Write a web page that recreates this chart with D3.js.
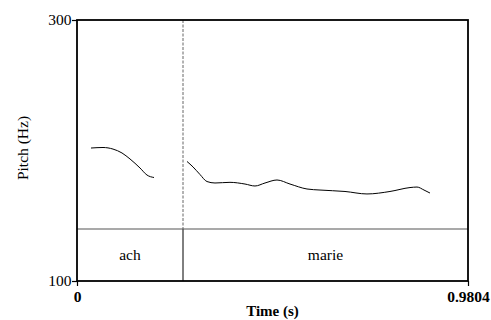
<!DOCTYPE html>
<html><head><meta charset="utf-8">
<script src="https://cdn.jsdelivr.net/npm/d3@7"></script>
<style>body{margin:0;background:#fff}svg{display:block}</style>
</head><body>
<script>
const timeDomain = [0, 0.9804];
const pitchDomain = [100, 300];
const yTickLabels = ["100", "300"];
const xTickLabels = ["0", "0.9804"];
const words = ["ach", "marie"];
const wordBounds = [0, 0.2658, 0.9804];
const seg1Time = [0.0351,0.0652,0.0903,0.1128,0.1329,0.1580,0.1755,0.1931];
const seg1Hz   = [201.9,202.3,201.1,198.1,193.5,186.6,181.2,179.3];
const seg2Time = [0.2758,0.2909,0.3084,0.3260,0.3460,0.3836,0.4213,0.4463,0.4714,0.5015,0.5341,0.5767,0.6093,0.6720,0.7271,0.7848,0.8350,0.8525,0.8701,0.8851];
const seg2Hz   = [191.6,187.4,181.6,176.2,175.1,175.6,174.3,172.8,175.1,177.4,174.3,170.5,169.7,168.6,166.7,168.6,171.6,172.0,169.7,167.4];

const W = 491, H = 320;
const L = 77, R = 468, T = 20, B = 281, tierTop = 229;
const FS = 15.5;
const svg = d3.select("body").append("svg").attr("width", W).attr("height", H)
  .style("font-family", "'Liberation Serif', 'Times New Roman', serif");

const x = d3.scaleLinear().domain(timeDomain).range([L, R]);
const y = d3.scaleLinear().domain(pitchDomain).range([B, T]);

// dashed boundary in pitch area
svg.append("line").attr("x1", x(wordBounds[1])).attr("x2", x(wordBounds[1]))
  .attr("y1", T).attr("y2", tierTop).attr("stroke", "#666").attr("stroke-width", 1)
  .attr("stroke-dasharray", "3,1.5");
// tier boundary
svg.append("line").attr("x1", x(wordBounds[1])).attr("x2", x(wordBounds[1]))
  .attr("y1", tierTop).attr("y2", B).attr("stroke", "#000").attr("stroke-width", 1);
// tier top line
svg.append("line").attr("x1", L).attr("x2", R).attr("y1", tierTop).attr("y2", tierTop)
  .attr("stroke", "#555").attr("stroke-width", 1.2);

// words
words.forEach((w, i) => {
  svg.append("text").attr("x", (x(wordBounds[i]) + x(wordBounds[i+1])) / 2)
    .attr("y", (tierTop + B) / 2).attr("dy", "0.35em").attr("text-anchor", "middle")
    .attr("font-size", FS).text(w);
});

// pitch curves
const line = d3.line().x(d => x(d[0])).y(d => y(d[1])).curve(d3.curveMonotoneX);
[[seg1Time, seg1Hz], [seg2Time, seg2Hz]].forEach(([ts, hs]) => {
  svg.append("path").datum(ts.map((t, i) => [t, hs[i]]))
    .attr("d", line).attr("fill", "none").attr("stroke", "#000").attr("stroke-width", 1);
});

// box
svg.append("rect").attr("x", L).attr("y", T).attr("width", R - L).attr("height", B - T)
  .attr("fill", "none").attr("stroke", "#000").attr("stroke-width", 1.8);

// y axis ticks
const yAxis = d3.axisLeft(y).tickValues(pitchDomain).tickSize(5).tickPadding(0.5)
  .tickFormat((d, i) => yTickLabels[i]);
const ga = svg.append("g").attr("transform", `translate(${L},0)`).call(yAxis);
ga.select(".domain").remove();
ga.selectAll("text").attr("font-size", FS).attr("font-family", "'Liberation Serif', serif").attr("fill", "#000");
ga.selectAll("line").attr("stroke", "#000").attr("stroke-width", 1.2);

// x axis ticks
const xAxis = d3.axisBottom(x).tickValues(timeDomain).tickSize(5).tickPadding(5)
  .tickFormat((d, i) => xTickLabels[i]);
const gx = svg.append("g").attr("transform", `translate(0,${B})`).call(xAxis);
gx.select(".domain").remove();
gx.selectAll("text").attr("font-size", FS).attr("font-weight", "bold").attr("font-family", "'Liberation Serif', serif").attr("fill", "#000");
gx.selectAll("line").attr("stroke", "#000").attr("stroke-width", 1.2);

// axis titles
svg.append("text").attr("x", (L + R) / 2).attr("y", 316).attr("text-anchor", "middle")
  .attr("font-size", 15).attr("font-weight", "bold").text("Time (s)");
svg.append("text").attr("transform", `translate(28,148) rotate(-90)`)
  .attr("text-anchor", "middle").attr("font-size", FS).text("Pitch (Hz)");
</script>
</body></html>
